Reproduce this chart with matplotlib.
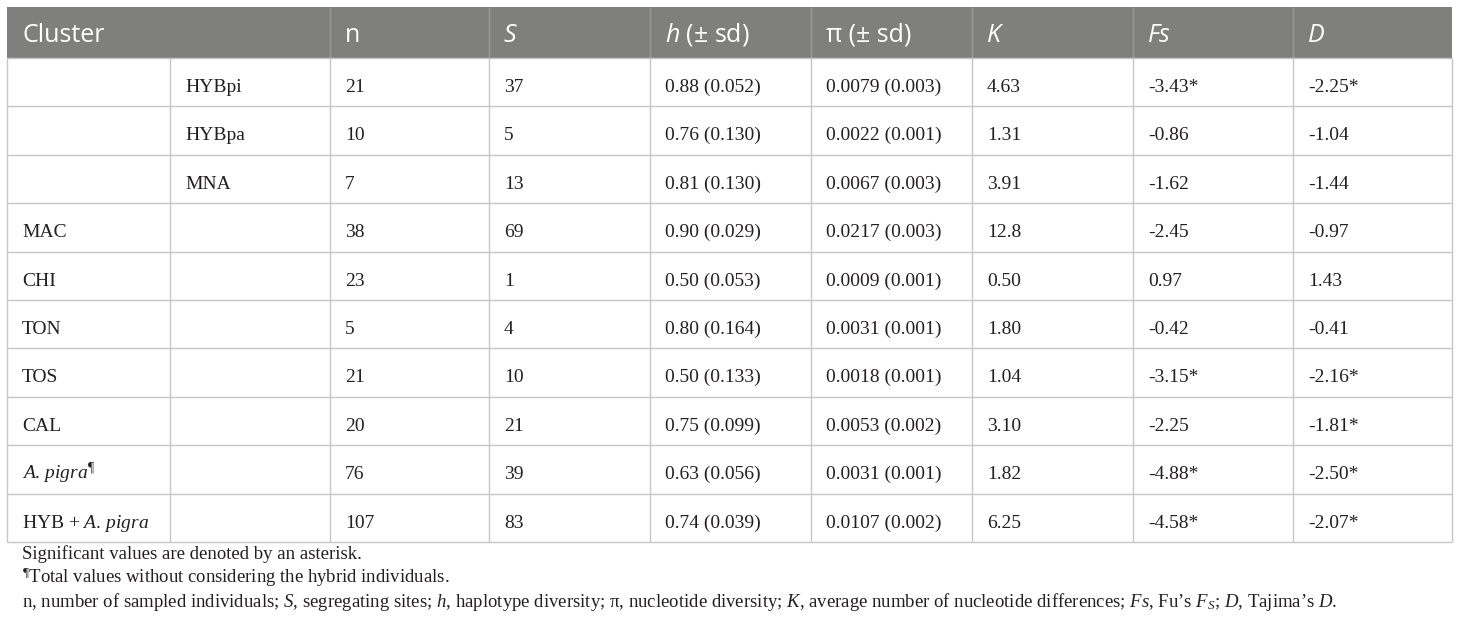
import matplotlib.pyplot as plt
from matplotlib.patches import Rectangle

plt.rcParams['mathtext.fontset'] = 'custom'
plt.rcParams['mathtext.rm'] = 'Liberation Serif'
plt.rcParams['mathtext.it'] = 'Liberation Serif:italic'
plt.rcParams['mathtext.sf'] = 'Open Sans:italic'

# table data
headers = ["Cluster", "n", "S", "$\\mathsf{h}$ (± sd)", "π (± sd)", "K", "Fs", "D"]
header_italic = [False, False, True, False, False, True, True, True]

cluster = ["", "", "", "MAC", "CHI", "TON", "TOS", "CAL",
           "$A$. $pigra^{¶}$", "HYB + $A$. $pigra$"]
subcluster = ["HYBpi", "HYBpa", "MNA", "", "", "", "", "", "", ""]
n = [21, 10, 7, 38, 23, 5, 21, 20, 76, 107]
S = [37, 5, 13, 69, 1, 4, 10, 21, 39, 83]
h = [0.88, 0.76, 0.81, 0.90, 0.50, 0.80, 0.50, 0.75, 0.63, 0.74]
h_sd = [0.052, 0.130, 0.130, 0.029, 0.053, 0.164, 0.133, 0.099, 0.056, 0.039]
pi = [0.0079, 0.0022, 0.0067, 0.0217, 0.0009, 0.0031, 0.0018, 0.0053, 0.0031, 0.0107]
pi_sd = [0.003, 0.001, 0.003, 0.003, 0.001, 0.001, 0.001, 0.002, 0.001, 0.002]
K = ["4.63", "1.31", "3.91", "12.8", "0.50", "1.80", "1.04", "3.10", "1.82", "6.25"]
Fs = [-3.43, -0.86, -1.62, -2.45, 0.97, -0.42, -3.15, -2.25, -4.88, -4.58]
Fs_sig = [1, 0, 0, 0, 0, 0, 1, 0, 1, 1]
D = [-2.25, -1.04, -1.44, -0.97, 1.43, -0.41, -2.16, -1.81, -2.50, -2.07]
D_sig = [1, 0, 0, 0, 0, 0, 1, 1, 1, 1]

notes = [
    "Significant values are denoted by an asterisk.",
    "${}^{¶}$Total values without considering the hybrid individuals.",
    "n, number of sampled individuals; $S$, segregating sites; $h$, haplotype diversity; "
    "π, nucleotide diversity; $K$, average number of nucleotide differences; "
    "$Fs$, Fu’s $F_S$; $D$, Tajima’s $D$.",
]

def fmt(v, sig):
    return f"{v:.2f}" + ("*" if sig else "")

rows = []
for i in range(len(n)):
    rows.append([cluster[i], subcluster[i], str(n[i]), str(S[i]),
                 f"{h[i]:.2f} ({h_sd[i]:.3f})", f"{pi[i]:.4f} ({pi_sd[i]:.3f})",
                 K[i], fmt(Fs[i], Fs_sig[i]), fmt(D[i], D_sig[i])])

# layout (pixels)
W, H = 1460, 628
edges = [7, 170, 330, 489, 650, 811, 972, 1133, 1293, 1452]
top, head_bot, row_h = 7, 58, 48.4
pad = 15
grid = '#c6c6c6'
txt = '#231f20'

fig = plt.figure(figsize=(W / 100, H / 100), dpi=100)
ax = fig.add_axes([0, 0, 1, 1])
ax.set_xlim(0, W)
ax.set_ylim(H, 0)
ax.axis('off')

# header
ax.add_patch(Rectangle((edges[0], top), edges[-1] - edges[0], head_bot - top,
                       facecolor='#7f807e', edgecolor='none'))
ax.vlines(edges[2:-1], top, head_bot, color='#999a98', lw=1)
hx = [edges[0]] + edges[2:-1]
for x, lab, it in zip(hx, headers, header_italic):
    ax.text(x + pad, top + 35, lab, color='white', fontsize=18, family='Open Sans',
            style='italic' if it else 'normal', va='baseline', ha='left')

# body
nrows = len(rows)
bottom = head_bot + nrows * row_h
ys = [head_bot + i * row_h for i in range(nrows + 1)]
ax.hlines(ys, edges[0], edges[-1], color=grid, lw=1)
ax.vlines(edges, head_bot, bottom, color=grid, lw=1)
for i, r in enumerate(rows):
    y = ys[i] + 34
    for j, cell in enumerate(r):
        if cell == "":
            continue
        ax.text(edges[j] + pad, y, cell, color=txt, fontsize=14,
                family='Liberation Serif', va='baseline', ha='left')

# footnotes
for k, note in enumerate(notes):
    ax.text(edges[0] + pad, 559 + k * 24, note, color=txt, fontsize=13.5,
            family='Liberation Serif', va='baseline', ha='left')

fig.savefig('out.png', dpi=100)
